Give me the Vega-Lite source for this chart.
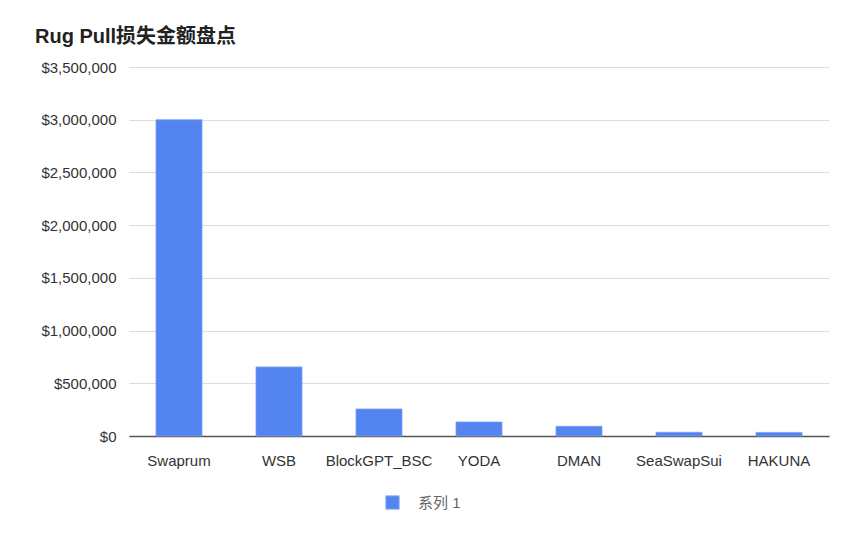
{
  "$schema": "https://vega.github.io/schema/vega-lite/v6.json",
  "autosize": {"type": "none"},
  "width": 700,
  "height": 369,
  "padding": {"left": 129, "top": 67, "right": 35, "bottom": 109},
  "background": "white",
  "config": {
    "font": "Liberation Sans, Noto Sans CJK SC",
    "view": {"stroke": null}
  },
  "title": {
    "text": "Rug Pull损失金额盘点",
    "anchor": "start",
    "frame": "group",
    "dx": -94,
    "offset": 13,
    "fontSize": 20,
    "fontWeight": "bold",
    "color": "#222",
    "font": "Liberation Sans, Noto Sans CJK SC"
  },
  "data": {
    "values": [
      {"name": "Swaprum", "loss": 3000000, "series": "系列 1"},
      {"name": "WSB", "loss": 655000, "series": "系列 1"},
      {"name": "BlockGPT_BSC", "loss": 256000, "series": "系列 1"},
      {"name": "YODA", "loss": 133000, "series": "系列 1"},
      {"name": "DMAN", "loss": 92000, "series": "系列 1"},
      {"name": "SeaSwapSui", "loss": 35000, "series": "系列 1"},
      {"name": "HAKUNA", "loss": 34000, "series": "系列 1"}
    ]
  },
  "mark": {"type": "bar", "stroke": "#7aa0f5", "strokeWidth": 0.8},
  "encoding": {
    "x": {
      "field": "name",
      "type": "nominal",
      "sort": null,
      "scale": {"paddingInner": 0.54, "paddingOuter": 0.27},
      "axis": {
        "title": null,
        "labelAngle": 0,
        "ticks": false,
        "labelPadding": 17,
        "labelFontSize": 15,
        "labelColor": "#333",
        "domainColor": "#555",
        "domainWidth": 1.5
      }
    },
    "y": {
      "field": "loss",
      "type": "quantitative",
      "scale": {"domain": [0, 3500000], "nice": false},
      "axis": {
        "title": null,
        "values": [0, 500000, 1000000, 1500000, 2000000, 2500000, 3000000, 3500000],
        "format": "$,.0f",
        "domain": false,
        "ticks": false,
        "labelPadding": 13,
        "labelFontSize": 15,
        "labelColor": "#333",
        "gridColor": "#dcdcdc"
      }
    },
    "color": {
      "field": "series",
      "type": "nominal",
      "scale": {"range": ["#5384EF"]},
      "legend": {
        "title": null,
        "orient": "none",
        "legendX": 256,
        "legendY": 428,
        "symbolType": "square",
        "symbolSize": 180,
        "symbolStrokeColor": "#9ab6f5",
        "symbolStrokeWidth": 1,
        "labelFontSize": 15,
        "labelColor": "#666",
        "labelOffset": 18
      }
    }
  }
}
